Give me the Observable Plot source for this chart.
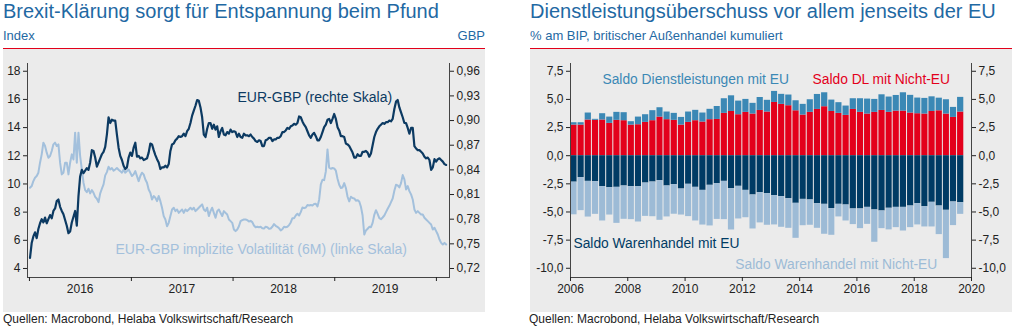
<!DOCTYPE html>
<html><head><meta charset="utf-8">
<script src="https://cdn.jsdelivr.net/npm/d3@7"></script>
<script src="https://cdn.jsdelivr.net/npm/@observablehq/plot@0.6"></script>
<style>
html,body{margin:0;padding:0;background:#fff;width:1016px;height:336px;overflow:hidden;font-family:"Liberation Sans",Arial,sans-serif;}
.a{position:absolute;white-space:nowrap;line-height:1;}
.title{font-size:20px;color:#1f69a3;}
.sub{font-size:13px;color:#1f69a3;}
.red{height:1.5px;background:#e2001a;}
.grey{background:#ebebeb;}
.cap{font-size:12px;color:#222;}
</style></head><body>
<div class="a title" style="left:3px;top:0.5px">Brexit-Klärung sorgt für Entspannung beim Pfund</div>
<div class="a sub" style="left:3px;top:29px">Index</div>
<div class="a sub" style="right:531px;top:29px">GBP</div>
<div class="a red" style="left:3px;top:47.5px;width:482px"></div>
<div class="a grey" id="left" style="left:3px;top:49px;width:482px;height:263px"></div>
<div class="a cap" style="left:3px;top:313px">Quellen: Macrobond, Helaba Volkswirtschaft/Research</div>

<div class="a title" style="left:530px;top:0.5px">Dienstleistungsüberschuss vor allem jenseits der EU</div>
<div class="a sub" style="left:530px;top:29px">% am BIP, britischer Außenhandel kumuliert</div>
<div class="a red" style="left:530px;top:47.5px;width:482px"></div>
<div class="a grey" id="right" style="left:530px;top:49px;width:482px;height:263px"></div>
<div class="a cap" style="left:529px;top:313px">Quellen: Macrobond, Helaba Volkswirtschaft/Research</div>

<script>
// ---------- Left chart data (every 6 days from 2016-01-03) ----------
const seriesStart = Date.UTC(2016, 0, 3);
const stepDays = 6;
const eurgbp = [
0.733,0.751,0.759,0.764,0.757,0.768,0.775,0.780,0.776,0.782,
0.775,0.780,0.785,0.781,0.790,0.793,0.802,0.804,0.795,0.790,
0.786,0.779,0.772,0.763,0.765,0.776,0.783,0.790,0.772,0.808,
0.832,0.840,0.836,0.839,0.842,0.840,0.849,0.864,0.863,0.855,
0.844,0.849,0.854,0.859,0.862,0.868,0.883,0.904,0.897,0.901,
0.900,0.900,0.883,0.867,0.857,0.852,0.845,0.841,0.843,0.855,
0.861,0.857,0.867,0.873,0.856,0.857,0.854,0.855,0.852,0.853,
0.854,0.861,0.872,0.871,0.864,0.858,0.853,0.849,0.841,0.843,
0.843,0.845,0.843,0.847,0.863,0.871,0.872,0.876,0.878,0.881,
0.880,0.881,0.884,0.881,0.887,0.890,0.897,0.906,0.912,0.918,
0.925,0.924,0.916,0.904,0.883,0.880,0.890,0.897,0.897,0.890,
0.895,0.889,0.893,0.880,0.887,0.891,0.883,0.882,0.886,0.884,
0.889,0.886,0.887,0.886,0.880,
0.884,0.880,0.879,0.884,0.882,0.882,0.881,0.883,0.880,0.878,
0.875,0.874,0.876,0.875,0.869,0.869,0.876,0.877,0.879,0.879,
0.875,0.877,0.877,0.879,0.879,0.881,0.886,0.886,0.888,0.891,
0.890,0.893,0.894,0.896,0.895,0.897,0.905,0.904,0.899,0.895,
0.892,0.887,0.882,0.879,0.883,0.885,0.881,0.876,0.876,0.880,
0.886,0.892,0.895,0.901,0.902,0.897,0.902,0.908,0.902,0.892,
0.888,0.881,0.881,0.880,0.872,0.871,0.869,0.865,0.861,0.855,
0.855,0.859,0.857,0.857,0.862,0.862,0.863,0.861,0.856,0.860,
0.870,0.880,0.886,0.890,0.893,0.895,0.897,0.896,0.898,0.898,
0.900,0.899,0.902,0.914,0.923,0.925,0.916,0.910,0.904,0.897,
0.897,0.891,0.884,0.891,0.891,0.869,0.866,0.864,0.864,0.862,
0.860,0.856,0.854,0.855,0.852,0.840,0.843,0.853,0.850,0.853,
0.854,0.852,0.850,0.847,0.846];
const impliedVol = [
9.73,9.85,10.20,10.44,10.56,10.80,11.51,12.10,12.93,12.69,
12.22,11.86,11.98,12.34,12.81,12.93,12.69,12.81,11.51,10.68,
10.80,11.51,11.51,10.68,11.51,12.10,11.74,13.64,11.51,13.64,
11.98,11.03,10.09,9.56,9.42,9.66,9.33,9.56,9.37,9.09,
8.95,8.71,9.33,9.66,9.97,10.61,10.84,11.22,11.03,11.13,
10.94,11.03,11.13,11.01,10.91,10.80,11.03,10.80,10.91,11.03,
10.80,10.56,10.68,10.91,10.56,10.20,10.56,10.80,10.68,10.32,
10.09,9.61,9.37,8.90,9.14,9.02,8.78,9.14,8.78,8.31,
7.72,7.48,7.00,7.24,7.72,8.19,8.31,8.07,8.19,7.95,
8.07,8.19,7.95,8.19,8.07,8.19,8.31,8.19,8.31,8.07,
8.19,8.31,8.43,8.55,8.19,8.07,8.31,7.72,8.07,8.31,
7.95,7.60,8.07,8.19,7.95,7.72,8.07,7.95,7.83,7.48,
7.36,7.24,6.77,6.65,6.77,
7.00,7.36,7.43,7.48,7.48,7.43,7.34,7.38,7.29,7.05,
6.93,6.96,6.93,6.96,6.86,6.84,6.96,6.93,6.82,6.84,
6.96,7.15,7.03,6.96,6.86,6.70,6.79,6.96,6.93,6.96,
7.08,7.27,7.57,7.57,7.76,7.88,7.76,8.00,8.33,8.28,
8.33,8.50,8.47,8.50,8.47,8.57,8.59,8.40,8.88,9.97,
10.30,10.27,10.89,12.45,11.15,11.08,11.13,11.10,10.94,10.37,
9.94,9.71,9.75,10.06,9.71,9.09,8.76,9.09,9.00,8.97,
8.81,8.85,8.76,8.38,7.76,6.41,6.70,6.82,6.96,6.93,
7.24,7.81,8.14,7.88,7.57,7.50,7.62,7.76,8.00,8.24,
8.45,8.71,8.97,9.52,9.94,9.90,9.75,10.06,10.63,10.32,
9.61,9.85,9.49,9.26,8.90,8.19,7.95,8.07,7.95,7.83,
7.83,7.60,7.48,7.36,7.24,7.12,6.77,6.89,6.65,6.41,
6.06,5.82,5.70,5.82,5.70];
const leftTicks = [4, 6, 8, 10, 12, 14, 16, 18];
const rightTicks = [0.72, 0.75, 0.78, 0.81, 0.84, 0.87, 0.90, 0.93, 0.96];
const leftYears = [2016, 2017, 2018, 2019];

// ---------- Right chart data (quarterly, 2006Q1 - 2019Q3, % of GDP) ----------
const firstYear = 2006;
const dlNichtEU = [2.72,2.72,3.17,3.14,3.17,2.87,3.14,3.11,2.72,2.75,2.96,3.11,3.43,3.20,3.14,2.72,2.96,3.11,2.99,3.20,3.22,3.76,3.93,3.64,3.85,3.70,4.02,3.88,
4.73,4.56,4.44,3.99,3.61,3.85,4.11,4.35,3.93,3.76,3.58,4.11,3.85,3.70,3.85,4.02,3.85,3.96,3.96,3.79,3.73,3.70,3.93,3.99,3.70,3.40,3.88];
const dlEU = [0.21,0.21,0.62,0.09,0.56,0.56,0.71,0.71,0.30,0.68,0.68,0.89,0.83,0.68,0.62,0.68,0.92,0.92,0.80,0.92,1.15,1.30,1.39,1.21,1.15,0.95,1.15,1.04,
0.98,0.89,0.95,0.89,0.95,1.12,1.33,1.24,1.01,0.95,0.83,0.95,1.21,1.33,1.15,1.39,1.36,1.39,1.63,1.57,1.39,1.39,1.30,1.12,1.27,0.89,1.30];
const warenEU = [-2.35,-1.95,-2.28,-2.31,-2.75,-2.84,-2.81,-2.69,-2.75,-2.75,-2.43,-2.34,-2.22,-2.69,-2.57,-2.96,-2.54,-2.81,-3.08,-2.63,-2.49,-2.28,-2.93,-2.72,-3.08,-3.49,-3.28,-3.37,
-3.55,-3.64,-3.82,-4.23,-3.88,-3.93,-4.26,-4.32,-4.70,-4.32,-4.38,-4.73,-4.73,-4.59,-4.82,-4.91,-4.67,-4.59,-4.59,-4.47,-4.26,-4.53,-4.14,-4.47,-4.85,-4.11,-4.17];
const warenNichtEU = [-2.90,-2.93,-3.17,-2.90,-3.05,-2.43,-3.20,-2.96,-2.93,-3.14,-2.96,-3.08,-3.52,-2.75,-2.63,-2.31,-2.87,-2.99,-3.08,-3.61,-3.17,-3.40,-3.67,-2.90,-2.43,-3.02,-2.69,-2.81,
-2.60,-2.72,-2.63,-3.11,-2.34,-2.25,-2.19,-2.66,-2.37,-1.12,-1.42,-1.39,-1.75,-1.51,-2.87,-1.57,-1.92,-1.80,-2.10,-1.92,-1.89,-1.80,-2.19,-2.54,-4.29,-2.10,-1.04];
const seriesNames = ["Saldo DL mit Nicht-EU", "Saldo Dienstleistungen mit EU", "Saldo Warenhandel mit EU", "Saldo Warenhandel mit Nicht-EU"];
const seriesColors = ["#e3001b", "#3b88b5", "#003b64", "#9dbbd6"];
const barTicks = [-10, -7.5, -5, -2.5, 0, 2.5, 5, 7.5];
const barYears = [2006, 2008, 2010, 2012, 2014, 2016, 2018, 2020];

const font = '"Liberation Sans", Arial, sans-serif';
const comma = (d, n) => d.toFixed(n).replace(".", ",");
const U = (y, m, d) => new Date(Date.UTC(y, m, d));

// ---------- build left chart ----------
const lineData = eurgbp.map((v, i) => ({date: new Date(seriesStart + i * stepDays * 864e5), eurgbp: v, vol: impliedVol[i]}));
const xDomL = [U(2015, 11, 25), U(2020, 1, 17)];
const dimsL = {width: 482, height: 263, marginLeft: 24, marginRight: 36, marginTop: 14, marginBottom: 35};
const styleBase = {fontFamily: font, fontSize: "12px", color: "#222", background: "transparent", overflow: "visible"};

const pVol = Plot.plot({
  ...dimsL, style: styleBase,
  x: {type: "utc", domain: xDomL},
  y: {domain: [3.36, 18.55]},
  marks: [
    Plot.frame({anchor: "left", stroke: "#444"}),
    Plot.frame({anchor: "right", stroke: "#444"}),
    Plot.frame({anchor: "bottom", stroke: "#444"}),
    Plot.axisY({anchor: "left", ticks: leftTicks, tickSize: 4, tickPadding: 3, label: null, tickFormat: d => String(d)}),
    Plot.axisX({ticks: leftYears.concat([2020]).map(y => U(y, 0, 1)), tickSize: 4, tickFormat: () => "", label: null}),
    Plot.axisX({ticks: leftYears.map(y => U(y, 6, 1)), tickSize: 0, tickPadding: 7, tickFormat: d => String(d.getUTCFullYear()), label: null}),
    Plot.line(lineData, {x: "date", y: "vol", stroke: "#a3c0dc", strokeWidth: 2}),
    Plot.text([{x: U(2016, 10, 5), y: 5.33, t: "EUR-GBP implizite Volatilität (6M) (linke Skala)"}],
      {x: "x", y: "y", text: "t", textAnchor: "start", fill: "#a3c0dc", fontSize: 14})
  ]
});
const pFx = Plot.plot({
  ...dimsL, style: styleBase,
  x: {type: "utc", domain: xDomL, axis: null},
  y: {domain: [0.70903, 0.96943]},
  marks: [
    Plot.axisY({anchor: "right", ticks: rightTicks, tickSize: 4, tickPadding: 3, label: null, tickFormat: d => comma(d, 2)}),
    Plot.line(lineData, {x: "date", y: "eurgbp", stroke: "#0c3a62", strokeWidth: 2.2}),
    Plot.text([{x: U(2018, 0, 17), y: 0.928, t: "EUR-GBP (rechte Skala)"}],
      {x: "x", y: "y", text: "t", textAnchor: "start", fill: "#0c3a62", fontSize: 14})
  ]
});
const L = document.getElementById("left");
for (const p of [pVol, pFx]) { p.style.position = "absolute"; p.style.left = "0"; p.style.top = "0"; L.appendChild(p); }

// ---------- build right chart ----------
const values = [dlNichtEU, dlEU, warenEU, warenNichtEU];
const bars = [];
values.forEach((arr, s) => arr.forEach((v, i) => {
  const y = firstYear + Math.floor(i / 4), q = i % 4;
  const y2 = firstYear + Math.floor((i + 1) / 4), q2 = (i + 1) % 4;
  bars.push({x1: U(y, q * 3, 1), x2: U(y2, q2 * 3, 1), series: seriesNames[s], value: v});
}));
const pBars = Plot.plot({
  width: 482, height: 263, marginLeft: 40, marginRight: 41, marginTop: 14, marginBottom: 35,
  style: styleBase,
  x: {type: "utc", domain: [U(2006, 0, 1), U(2020, 0, 1)]},
  y: {domain: [-10.82, 8.19]},
  color: {domain: seriesNames, range: seriesColors},
  marks: [
    Plot.rectY(bars, Plot.stackY({x1: "x1", x2: "x2", y: "value", z: "series", fill: "series", order: seriesNames, insetLeft: 0.5, insetRight: 0.5})),
    Plot.frame({anchor: "left", stroke: "#444"}),
    Plot.frame({anchor: "right", stroke: "#444"}),
    Plot.frame({anchor: "bottom", stroke: "#444"}),
    Plot.axisY({anchor: "left", ticks: barTicks, tickSize: 4, tickPadding: 3, label: null, tickFormat: d => comma(d, 1)}),
    Plot.axisY({anchor: "right", ticks: barTicks, tickSize: 4, tickPadding: 3, label: null, tickFormat: d => comma(d, 1)}),
    Plot.axisX({ticks: barYears.map(y => U(y, 0, 1)), tickSize: 4, tickPadding: 3, tickFormat: d => String(d.getUTCFullYear()), label: null}),
    Plot.text([
      {x: U(2007, 1, 13), y: 6.77, t: seriesNames[1], c: seriesColors[1]},
      {x: U(2014, 5, 14), y: 6.77, t: seriesNames[0], c: seriesColors[0]},
      {x: U(2006, 1, 8), y: -7.8, t: seriesNames[2], c: seriesColors[2]},
      {x: U(2011, 9, 4), y: -9.66, t: seriesNames[3], c: seriesColors[3]}
    ], {x: "x", y: "y", text: "t", fill: d => d.c, textAnchor: "start", fontSize: 13.8})
  ]
});
const R = document.getElementById("right");
pBars.style.position = "absolute"; pBars.style.left = "0"; pBars.style.top = "0";
R.appendChild(pBars);
</script>
</body></html>
